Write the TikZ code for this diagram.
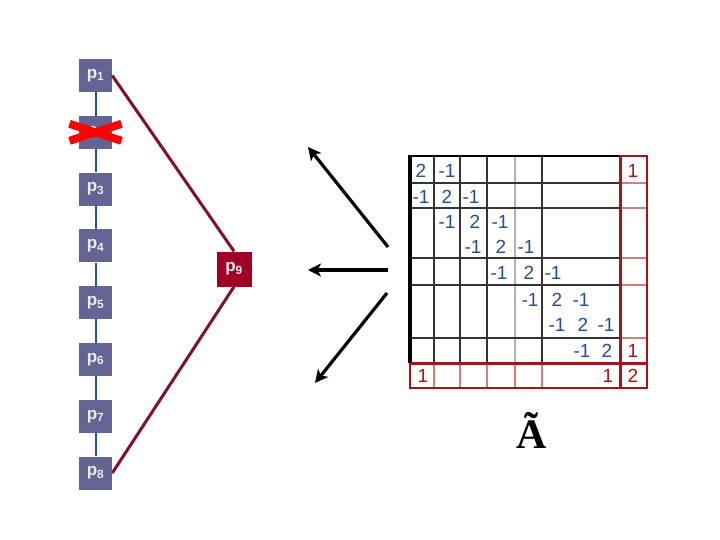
\documentclass[tikz,border=0pt]{standalone}
\usepackage{fontspec}
\setmainfont{Liberation Sans}
\newfontfamily\serifbold{Liberation Serif}
\usepackage{tikz}
\usetikzlibrary{arrows.meta,positioning}
\usepackage{xcolor}
\definecolor{pbox}{RGB}{99,99,148}
\definecolor{pnine}{RGB}{160,0,40}
\definecolor{link}{RGB}{128,16,48}
\definecolor{chain}{RGB}{40,80,155}
\definecolor{entry}{RGB}{36,78,146}
\definecolor{bord}{RGB}{165,20,25}
\definecolor{bordlt}{RGB}{215,125,125}
\tikzset{
  pnode/.style={fill=pbox,minimum size=33pt,inner sep=0pt,text=white!92!black,
    font=\bfseries\fontsize{17}{17}\selectfont},
  linkline/.style={draw=link,line width=3pt},
  xmark/.style={draw=red,line width=8pt},
  bigarrow/.style={-{Stealth[length=13pt,width=13pt,inset=3.5pt]},line width=3.2pt},
  cell/.style={draw=black!80,line width=1.1pt},
  cellred/.style={draw=bordlt,line width=1.1pt},
  ent/.style={text=entry,inner sep=1pt,font=\fontsize{19}{19}\selectfont},
}

\begin{document}
\begin{tikzpicture}[x=1pt,y=-1pt]
  \useasboundingbox[fill=white] (0,0) rectangle (720,540);
  % chain of processors
  \foreach \i in {1,...,8} {
    \node[pnode] (p\i) at (95.5,{75.5+(\i-1)*56.8}) {p\textsubscript{\i}};
  }
  \foreach \i in {1,...,7} {
    \pgfmathtruncatemacro\j{\i+1}
    \draw[draw=chain,line width=2pt] (p\i) -- (p\j);
  }
  \draw[xmark] ([shift={(-26,-8.5)}]p2.center) -- ([shift={(26,8.5)}]p2.center);
  \draw[xmark] ([shift={(-26,8.5)}]p2.center) -- ([shift={(26,-8.5)}]p2.center);
  \node[pnode,fill=pnine,minimum size=35pt] (p9) at (234,269) {p\textsubscript{9}};
  \draw[linkline] (p1.east) -- (p9.north);
  \draw[linkline] (p8.east) -- (p9.south);
  % arrows
  \foreach \n/\sx/\sy/\tx/\ty in {1/388/247/308/147,2/388/270/308/270,3/387/293/315/383} {
    \coordinate (s\n) at (\sx,\sy);
    \coordinate (t\n) at (\tx,\ty);
    \draw[bigarrow] (s\n) -- (t\n);
  }
  % matrix grid
  \foreach \x in {434,460,487,542} \draw[cell] (\x,156) -- (\x,363);
  \draw[cell,draw=black!30] (515,156) -- (515,363);
  \foreach \y in {183,208,258,285,338} {
    \draw[cell] (410,\y) -- (620,\y);
    \draw[cellred] (620,\y) -- (647,\y);
  }
  \foreach \x in {434,460,487,515,542} \draw[cellred] (\x,363) -- (\x,388);
  \draw[line width=2pt] (410,156) -- (620,156);
  \draw[line width=3.2pt] (410,363) -- (410,155);
  \draw[bord,line width=2.4pt] (620,156) -- (647,156) -- (647,388) -- (410,388) -- (410,363);
  \draw[bord,line width=3pt] (620,156) -- (620,388);
  \draw[bord,line width=3pt] (410,363) -- (647,363);
  % entries
  \foreach \x/\y/\v [count=\k] in {421/170.5/2,447/170.5/-1,
      421/196.5/-1,447/196.5/2,471/196.5/-1,
      447/221.5/-1,475/221.5/2,500/221.5/-1,
      473/246.5/-1,501/246.5/2,526/246.5/-1,
      499/272.5/-1,529/272.5/2,553/272.5/-1,
      530/300/-1,557/300/2,581/300/-1,
      557/325/-1,583/325/2,606/325/-1,
      582/350.5/-1,607/350.5/2} {
    \node[ent] (m\k) at (\x,\y) {\v};
  }
  \foreach \x/\y/\v [count=\k] in {633/170.5/1,633/350.5/1,423/376/1,608/376/1,633/376/2} {
    \node[ent,text=bord] (r\k) at (\x,\y) {\v};
  }
  \node[anchor=base,font=\serifbold\bfseries\fontsize{42}{42}\selectfont] (Atil) at (532,448) {Ã};
\end{tikzpicture}
\end{document}
